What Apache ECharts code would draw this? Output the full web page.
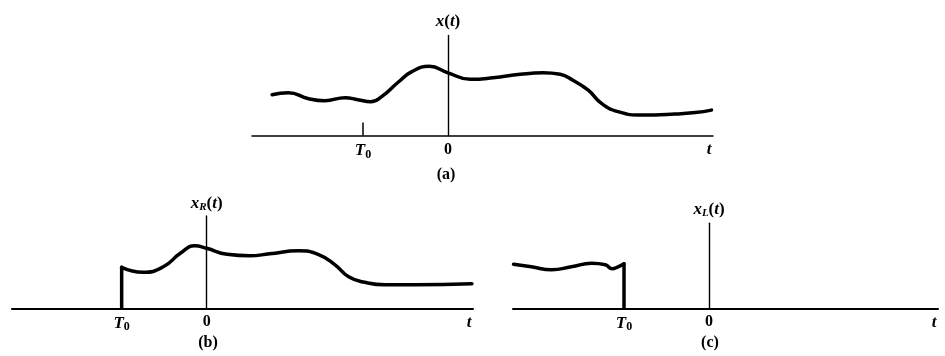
<!DOCTYPE html>
<html><head><meta charset="utf-8">
<script src="https://cdn.jsdelivr.net/npm/echarts@6/dist/echarts.min.js"></script>
<style>html,body{margin:0;padding:0;background:#fff}#c{width:945px;height:356px}</style>
</head><body><div id="c"></div>
<script>
// time unit: |T0| = 1 ; amplitude in arbitrary units
const T0 = -1;
const tickValues = [T0, 0];
const captions = ['(a)', '(b)', '(c)'];
// (a) x(t)
const tA = [-2.07,-1.88,-1.64,-1.45,-1.21,-1.06,-0.91,-0.78,-0.58,-0.43,-0.22,0,0.26,0.53,0.85,1.12,1.32,1.47,1.65,1.81,2.00,2.28,2.67,2.91,3.10];
const xA = [0.82,0.86,0.74,0.70,0.76,0.72,0.68,0.78,1.08,1.28,1.39,1.26,1.13,1.16,1.23,1.26,1.23,1.11,0.91,0.64,0.48,0.41,0.43,0.46,0.51];
// (b) x_R(t) : zero before T0
const tB = [-1,-0.75,-0.51,-0.31,-0.14,0,0.24,0.51,0.74,1.08,1.31,1.51,1.67,1.86,2.10,2.45,3.12];
const xB = [0.82,0.72,0.83,1.10,1.25,1.20,1.08,1.05,1.09,1.15,1.08,0.87,0.63,0.52,0.47,0.47,0.49];
// (c) x_L(t) : zero after T0
const tC = [-2.30,-2.09,-1.85,-1.62,-1.38,-1.22,-1.14,-1.07,-1];
const xC = [0.88,0.83,0.77,0.83,0.90,0.87,0.79,0.83,0.89];

const pairs = (t, x) => t.map((v, i) => [v, x[i]]);
const SERIF = '"Liberation Serif","DejaVu Serif",serif';
const richLbl = {
  i: {fontFamily: SERIF, fontStyle: 'italic', fontWeight: 'bold', fontSize: 17, color: '#000'},
  s: {fontFamily: SERIF, fontWeight: 'bold', fontSize: 12, color: '#000', padding: [7, 0, 0, 0]},
  n: {fontFamily: SERIF, fontWeight: 'bold', fontSize: 16, color: '#000'},
  x: {fontFamily: SERIF, fontStyle: 'italic', fontWeight: 'bold', fontSize: 17, color: '#000'},
  p: {fontFamily: SERIF, fontWeight: 'bold', fontSize: 17, color: '#000'},
  xs: {fontFamily: SERIF, fontStyle: 'italic', fontWeight: 'bold', fontSize: 11, color: '#000', padding: [7, 0, 0, 0]}
};

const grids = [
  {left: 252, right: 232, top: 35.5, bottom: 220.5},
  {left: 12, right: 472, top: 216, bottom: 47.7},
  {left: 513, right: 7, top: 223.3, bottom: 47.7}
];
const xRanges = [[-2.306, 3.118], [-2.29, 3.133], [-2.306, 2.694]];
const yMax = [2.01, 1.846, 1.70];
const yNames = ['{x|x}{p|(}{x|t}{p|)}', '{x|x}{xs|R}{p|(}{x|t}{p|)}', '{x|x}{xs|L}{p|(}{x|t}{p|)}'];
const yGaps = [5, 3, 5];

const xAxis = grids.map((g, k) => ({
  type: 'value', gridIndex: k, min: xRanges[k][0], max: xRanges[k][1],
  axisLine: {onZero: true, lineStyle: {color: '#000', width: k === 0 ? 1.5 : 2}},
  axisTick: k === 0 ? {show: true, inside: true, length: 13, customValues: [T0], lineStyle: {color: '#000', width: 1.5}} : {show: false},
  splitLine: {show: false},
  axisLabel: {customValues: tickValues, margin: 6, formatter: v => v === T0 ? '{i|T}{s|0}' : '{n|0}', rich: richLbl},
  name: 't', nameLocation: 'end', nameGap: -4,
  nameTextStyle: {fontFamily: SERIF, fontStyle: 'italic', fontWeight: 'bold', fontSize: 17, color: '#000', align: 'center', verticalAlign: 'top', padding: [6, 0, 0, 0]}
}));
const yAxis = grids.map((g, k) => ({
  type: 'value', gridIndex: k, min: 0, max: yMax[k],
  axisLine: {show: true, onZero: true, lineStyle: {color: '#000', width: 1.4}},
  axisTick: {show: false}, axisLabel: {show: false}, splitLine: {show: false},
  name: yNames[k], nameLocation: 'end', nameGap: yGaps[k],
  nameTextStyle: {rich: richLbl, align: 'center'}
}));

const curveStyle = {color: '#000', width: 3.5, cap: 'round', join: 'round'};
const series = [
  {type: 'line', xAxisIndex: 0, yAxisIndex: 0, data: pairs(tA, xA), smooth: 0.5, showSymbol: false, lineStyle: curveStyle},
  {type: 'line', xAxisIndex: 1, yAxisIndex: 1, data: pairs(tB, xB), smooth: 0.5, showSymbol: false, lineStyle: curveStyle},
  {type: 'line', xAxisIndex: 1, yAxisIndex: 1, data: [[T0, 0], [T0, xB[0]]], showSymbol: false, lineStyle: curveStyle},
  {type: 'line', xAxisIndex: 2, yAxisIndex: 2, data: pairs(tC, xC), smooth: 0.5, showSymbol: false, lineStyle: curveStyle},
  {type: 'line', xAxisIndex: 2, yAxisIndex: 2, data: [[T0, xC[xC.length - 1]], [T0, 0]], showSymbol: false, lineStyle: curveStyle}
];
const capPos = [[446, 175], [208, 343], [710, 343]];
const graphic = captions.map((c, k) => ({
  type: 'text', x: capPos[k][0], y: capPos[k][1],
  style: {text: c, font: 'bold 16px ' + SERIF, fill: '#000', textAlign: 'center', textVerticalAlign: 'middle'}
}));

const chart = echarts.init(document.getElementById('c'), null, {renderer: 'canvas'});
chart.setOption({
  backgroundColor: '#fff', animation: false,
  grid: grids, xAxis, yAxis, series, graphic
});
</script></body></html>
